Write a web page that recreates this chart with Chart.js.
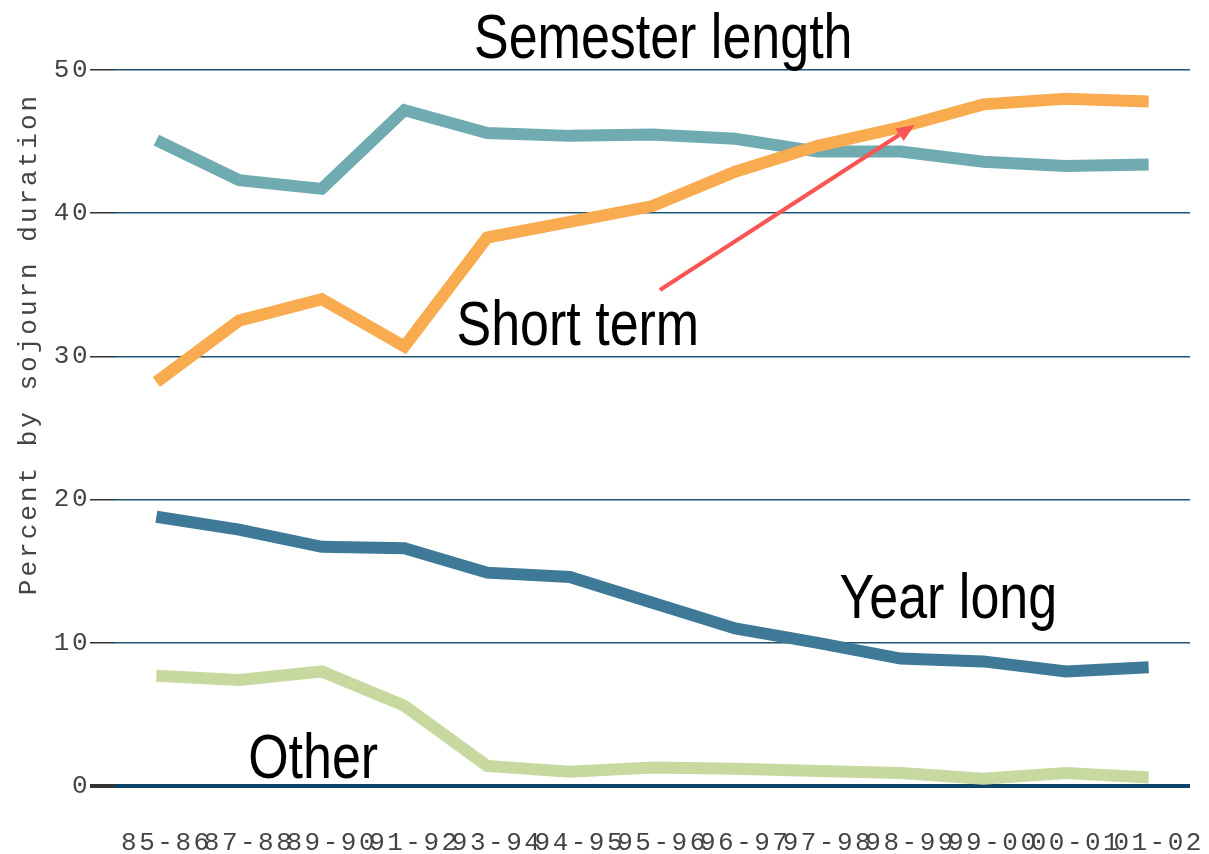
<!DOCTYPE html>
<html>
<head>
<meta charset="utf-8">
<script src="https://cdn.jsdelivr.net/npm/chart.js@4.4.1/dist/chart.umd.min.js"></script>
<style>
  html, body { margin: 0; padding: 0; background: #fff; }
  #wrap { width: 1209px; height: 854px; }
</style>
</head>
<body>
<div id="wrap"><canvas id="sojournChart" width="1209" height="854"></canvas></div>
<script>
// academic years
const years = ['85-86', '87-88', '89-90', '91-92', '93-94', '94-95', '95-96',
               '96-97', '97-98', '98-99', '99-00', '00-01', '01-02'];

// percent by sojourn duration
const shortTerm = [28.2, 32.5, 34.0, 30.7, 38.3, 39.4, 40.5, 42.9, 44.7, 46.0, 47.6, 48.0, 47.8];
const semesterLength = [45.1, 42.3, 41.7, 47.2, 45.6, 45.4, 45.5, 45.2, 44.3, 44.3, 43.6, 43.3, 43.4];
const yearLong = [18.8, 17.9, 16.7, 16.6, 14.9, 14.6, 12.8, 11.0, 10.0, 8.9, 8.7, 8.0, 8.3];
const other = [7.7, 7.4, 8.0, 5.6, 1.4, 1.0, 1.3, 1.2, 1.05, 0.9, 0.5, 0.9, 0.6];

const yTicks = [0, 10, 20, 30, 40, 50];

const COLORS = {
    semester: '#6FABB0',
    shortTerm: '#F9AB4F',
    yearLong: '#3E7A98',
    other: '#C7D99F',
    grid: '#1F5376',
    zero: '#0B4466',
    arrow: '#F95555'
};

const LABEL_FONT = '"Liberation Sans", Arial, sans-serif';
const MONO_FONT = '"Liberation Mono", "DejaVu Sans Mono", monospace';
const NARROW = 0.825;  // horizontal squeeze to mimic a narrow face

const toPoints = arr => arr.map((v, i) => ({ x: i, y: v }));

// spaced-out monospace text like the reference
const spacingPlugin = {
    id: 'spacing',
    beforeLayout(chart) { chart.ctx.letterSpacing = '2.5px'; },
    beforeDraw(chart) { chart.ctx.letterSpacing = '2.5px'; }
};

function narrowText(ctx, text, x, y, align) {
    ctx.save();
    ctx.translate(x, y);
    ctx.scale(NARROW, 1);
    ctx.textAlign = align;
    ctx.fillText(text, 0, 0);
    ctx.restore();
}

const annotationsPlugin = {
    id: 'annotations',
    afterDraw(chart) {
        const ctx = chart.ctx;
        const xs = chart.scales.x;
        const ys = chart.scales.y;
        const px = v => xs.getPixelForValue(v);
        const py = v => ys.getPixelForValue(v);

        ctx.save();
        ctx.letterSpacing = '0px';
        ctx.fillStyle = '#000';
        ctx.font = '63px ' + LABEL_FONT;
        ctx.textBaseline = 'alphabetic';

        narrowText(ctx, 'Semester length', px(6.13), py(50.84), 'center');
        narrowText(ctx, 'Short term', px(3.63), py(30.8), 'left');
        narrowText(ctx, 'Year long', px(8.26), py(11.73), 'left');
        narrowText(ctx, 'Other', px(1.11), py(0.56), 'left');

        // arrow from "Short term" to the short term line
        const x0 = px(6.09), y0 = py(34.64);
        const x1 = px(9.17), y1 = py(46.16);
        const ang = Math.atan2(y1 - y0, x1 - x0);
        const headLen = 18, headW = 7.5;
        ctx.strokeStyle = COLORS.arrow;
        ctx.fillStyle = COLORS.arrow;
        ctx.lineWidth = 4;
        ctx.beginPath();
        ctx.moveTo(x0, y0);
        ctx.lineTo(x1 - headLen * Math.cos(ang), y1 - headLen * Math.sin(ang));
        ctx.stroke();
        ctx.beginPath();
        ctx.moveTo(x1, y1);
        ctx.lineTo(x1 - headLen * Math.cos(ang) + headW * Math.sin(ang),
                   y1 - headLen * Math.sin(ang) - headW * Math.cos(ang));
        ctx.lineTo(x1 - headLen * Math.cos(ang) - headW * Math.sin(ang),
                   y1 - headLen * Math.sin(ang) + headW * Math.cos(ang));
        ctx.closePath();
        ctx.fill();

        // y axis title
        ctx.letterSpacing = '3px';
        ctx.font = '26px ' + MONO_FONT;
        ctx.fillStyle = '#444';
        ctx.translate(29, 344);
        ctx.rotate(-Math.PI / 2);
        ctx.textAlign = 'center';
        ctx.textBaseline = 'middle';
        ctx.fillText('Percent by sojourn duration', 0, 0);
        ctx.restore();
    }
};

const ctx = document.getElementById('sojournChart').getContext('2d');
new Chart(ctx, {
    type: 'line',
    data: {
        datasets: [
            { label: 'Short term', data: toPoints(shortTerm), borderColor: COLORS.shortTerm },
            { label: 'Semester length', data: toPoints(semesterLength), borderColor: COLORS.semester },
            { label: 'Other', data: toPoints(other), borderColor: COLORS.other },
            { label: 'Year long', data: toPoints(yearLong), borderColor: COLORS.yearLong }
        ].map(ds => Object.assign(ds, {
            borderWidth: 12,
            pointRadius: 0,
            tension: 0,
            fill: false,
            borderJoinStyle: 'miter',
            borderCapStyle: 'butt'
        }))
    },
    options: {
        responsive: false,
        animation: false,
        layout: { padding: { top: 70, right: 19, left: 0, bottom: 0 } },
        plugins: {
            legend: { display: false },
            tooltip: { enabled: false }
        },
        scales: {
            x: {
                type: 'linear',
                min: -0.5,
                max: 12.5,
                afterBuildTicks: scale => { scale.ticks = years.map((_, i) => ({ value: i })); },
                afterFit: scale => {
                    scale.height = 68;
                    scale.paddingLeft = 0;
                    scale.paddingRight = 0;
                },
                grid: { display: false, drawTicks: false },
                border: { display: false },
                ticks: {
                    autoSkip: false,
                    maxRotation: 0,
                    padding: 42,
                    labelOffset: 10,
                    color: '#444',
                    font: { family: MONO_FONT, size: 26 },
                    callback: v => years[v]
                }
            },
            y: {
                min: 0,
                max: 50,
                afterBuildTicks: scale => { scale.ticks = yTicks.map(v => ({ value: v })); },
                afterFit: scale => {
                    scale.width = 115;
                    scale.paddingTop = 0;
                    scale.paddingBottom = 0;
                },
                border: { display: false },
                grid: {
                    color: c => c.tick && c.tick.value === 0 ? COLORS.zero : COLORS.grid,
                    lineWidth: c => c.tick && c.tick.value === 0 ? 4 : 1.5,
                    tickColor: '#333',
                    tickLength: 25,
                    drawTicks: true
                },
                ticks: {
                    padding: 0,
                    color: '#444',
                    font: { family: MONO_FONT, size: 26 }
                }
            }
        }
    },
    plugins: [spacingPlugin, annotationsPlugin]
});
</script>
</body>
</html>
